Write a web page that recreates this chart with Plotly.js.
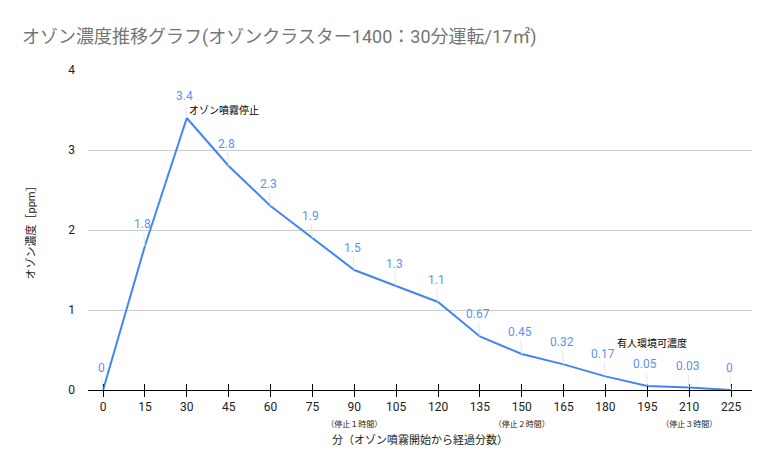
<!DOCTYPE html>
<html>
<head>
<meta charset="utf-8">
<script src="https://cdn.plot.ly/plotly-3.0.1.min.js"></script>
<style>html,body{margin:0;padding:0;background:#fff;}#chart{width:776px;height:472px;}</style>
</head>
<body>
<div id="chart"></div>
<script>
const minutes = [0, 15, 30, 45, 60, 75, 90, 105, 120, 135, 150, 165, 180, 195, 210, 225];
const ozonePpm = [0, 1.8, 3.4, 2.8, 2.3, 1.9, 1.5, 1.3, 1.1, 0.67, 0.45, 0.32, 0.17, 0.05, 0.03, 0];
const valueLabels = ['0', '1.8', '3.4', '2.8', '2.3', '1.9', '1.5', '1.3', '1.1', '0.67', '0.45', '0.32', '0.17', '0.05', '0.03', '0'];
const subLabels = {90: '（停止１時間）', 150: '（停止２時間）', 210: '（停止３時間）'};
const yTicks = [0, 1, 2, 3, 4];

const FONT = "Roboto, 'Noto Sans CJK JP', sans-serif";
const BLUE = '#4285F4';

const tickText = minutes.map(m => subLabels[m]
  ? m + "<br><span style='font-size:8px'>" + subLabels[m] + "</span>"
  : String(m));

const labelAnns = minutes.map((m, i) => ({
  x: m, y: ozonePpm[i], xref: 'x', yref: 'y',
  text: valueLabels[i], showarrow: true, arrowhead: 0, arrowwidth: 1,
  arrowcolor: '#e6e6e6', ax: -2, ay: -22, standoff: 0,
  font: {family: FONT, size: 12, color: '#5b93f5'}
}));

const notes = [
  {x: 30, y: 3.4, xref: 'x', yref: 'y', text: 'オゾン噴霧停止', showarrow: false,
   xanchor: 'left', yanchor: 'middle', yshift: 8, font: {family: FONT, size: 10, color: '#000'}},
  {x: 196.5, y: 0.59, xref: 'x', yref: 'y', text: '有人環境可濃度', showarrow: false,
   xanchor: 'center', yanchor: 'middle', font: {family: FONT, size: 10, color: '#000'}}
];

const trace = {
  x: minutes, y: ozonePpm, type: 'scatter', mode: 'lines',
  line: {color: BLUE, width: 2}, hoverinfo: 'skip'
};
const trace2 = {x: minutes, y: ozonePpm, xaxis: 'x2', yaxis: 'y', type: 'scatter', mode: 'none', hoverinfo: 'skip', showlegend: false};

const layout = {
  width: 776, height: 472,
  margin: {l: 88, r: 24, t: 70, b: 82},
  paper_bgcolor: '#fff', plot_bgcolor: '#fff',
  showlegend: false,
  font: {family: FONT, size: 12, color: '#222'},
  title: {
    text: 'オゾン濃度推移グラフ(オゾンクラスター1400：30分運転/17㎡)',
    x: 22 / 776, xanchor: 'left', xref: 'container', y: 1 - 37 / 472, yanchor: 'middle', yref: 'container',
    font: {family: FONT, size: 18, color: '#757575'}
  },
  xaxis: {
    range: [-5.4, 232.5], tickmode: 'array', tickvals: minutes, ticktext: tickText,
    showgrid: false, zeroline: false, showline: true, linecolor: '#000', linewidth: 1,
    ticks: 'outside', ticklen: 6, tickcolor: '#000', tickwidth: 1,
    tickfont: {family: FONT, size: 12, color: '#222'},
    title: {text: '分（オゾン噴霧開始から経過分数）', standoff: 8, font: {family: FONT, size: 11, color: '#222'}}
  },
  xaxis2: {
    overlaying: 'x', range: [-5.4, 232.5], tickmode: 'array', tickvals: minutes,
    showticklabels: false, showgrid: false, zeroline: false, showline: false,
    ticks: 'inside', ticklen: 6, tickcolor: '#000', tickwidth: 1
  },
  yaxis: {
    range: [0, 4], tickmode: 'array', tickvals: yTicks, ticktext: yTicks.map(String),
    showgrid: true, gridcolor: '#cccccc', gridwidth: 1, zeroline: false, showline: false,
    ticks: '', ticklabelstandoff: 12,
    tickfont: {family: FONT, size: 12, color: '#222'},
    title: {text: 'オゾン濃度［ppm］', standoff: 30, font: {family: FONT, size: 11, color: '#222'}}
  },
  annotations: labelAnns.concat(notes)
};

Plotly.newPlot('chart', [trace, trace2], layout, {displayModeBar: false, staticPlot: true});
</script>
</body>
</html>
